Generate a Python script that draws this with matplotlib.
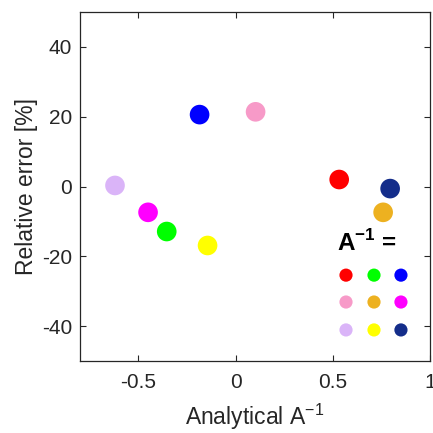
import matplotlib
matplotlib.use('Agg')
import matplotlib.pyplot as plt

plt.rcParams['font.family'] = ['Liberation Sans', 'DejaVu Sans']
plt.rcParams['mathtext.fontset'] = 'custom'
plt.rcParams['mathtext.rm'] = 'Liberation Sans'
plt.rcParams['mathtext.bf'] = 'Liberation Sans:bold'

# data
analytical = [-0.62, -0.45, -0.354, -0.144, -0.185, 0.103, 0.533, 0.795, 0.759]
rel_error = [0.3, -7.4, -12.9, -16.9, 20.6, 21.4, 2.0, -0.6, -7.4]
colors = ['#DAB4F8', '#FF00FF', '#00FF00', '#FFFF00', '#0000FF',
          '#F79AC8', '#FF0000', '#142D8A', '#EDB120']

# legend grid (3x3 colour key)
key_colors = [['#FF0000', '#00FF00', '#0000FF'],
              ['#F79AC8', '#EDB120', '#FF00FF'],
              ['#DAB4F8', '#FFFF00', '#142D8A']]

ink = '#262626'

fig = plt.figure(figsize=(4.33, 4.33), dpi=100)
ax = fig.add_axes([80 / 433, 72 / 433, 350 / 433, 349 / 433])

ax.scatter(analytical, rel_error, s=200, c=colors, edgecolors='none', zorder=3)

# colour key in axes coordinates
key_x = [0.76, 0.84, 0.917]
key_y = [0.246, 0.169, 0.089]
for r, row in enumerate(key_colors):
    for c, col in enumerate(row):
        ax.scatter(key_x[c], key_y[r], s=90, color=col, edgecolors='none',
                   transform=ax.transAxes, clip_on=False, zorder=3)
ax.text(0.82, 0.338, r'A$^{\mathbf{-1}}$ =', transform=ax.transAxes,
        ha='center', va='center', fontsize=17.5, fontweight='bold', color='black')

ax.set_xlim(-0.8, 1)
ax.set_ylim(-50, 50)
ax.set_xticks([-0.5, 0, 0.5, 1])
ax.set_xticklabels(['-0.5', '0', '0.5', '1'])
ax.set_yticks([-40, -20, 0, 20, 40])
ax.set_yticklabels(['-40', '-20', '0', '20', '40'])

ax.tick_params(direction='in', top=True, right=True, length=4, width=0.8,
               colors=ink, labelsize=15)
ax.tick_params(axis='x', pad=9)
ax.tick_params(axis='y', pad=5.5)
for sp in ax.spines.values():
    sp.set_color(ink)
    sp.set_linewidth(0.9)

ax.set_xlabel(r'Analytical A$^{-1}$', fontsize=16.5, color=ink, labelpad=7)
ax.set_ylabel('Relative error [%]', fontsize=16.5, color=ink, labelpad=3)

fig.savefig('out.png', dpi=100)
